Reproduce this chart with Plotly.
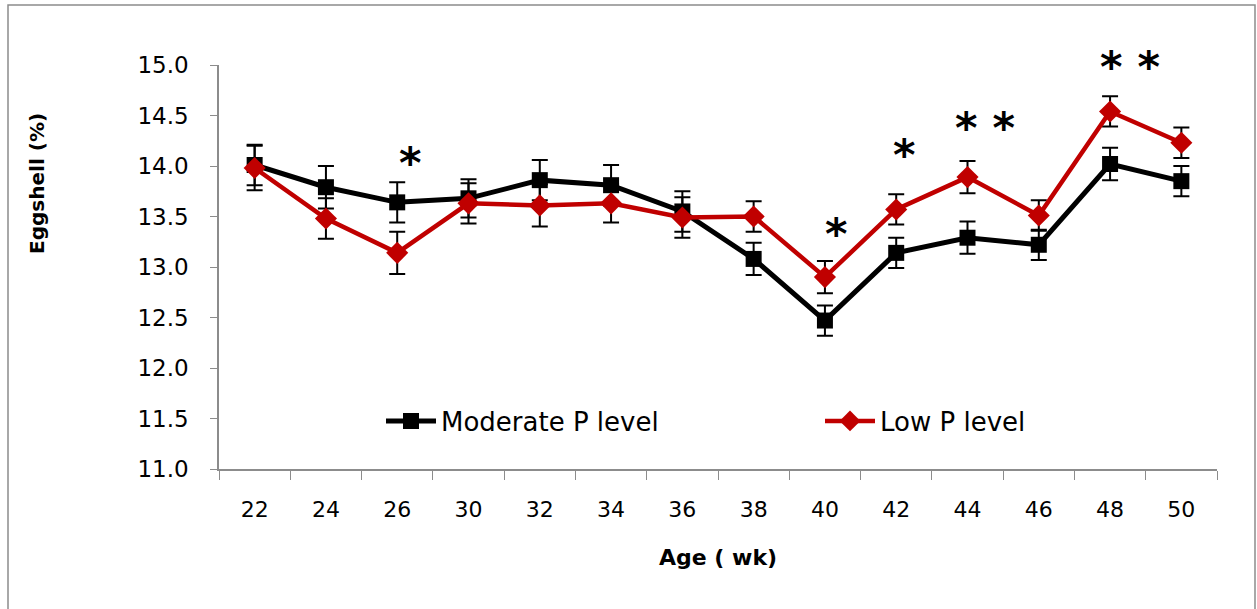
import plotly.graph_objects as go

ages = ["22", "24", "26", "30", "32", "34", "36", "38", "40", "42", "44", "46", "48", "50"]
moderate = [14.01, 13.79, 13.64, 13.68, 13.86, 13.81, 13.55, 13.08, 12.47, 13.14, 13.29, 13.22, 14.02, 13.85]
moderate_err = [0.20, 0.21, 0.20, 0.19, 0.20, 0.20, 0.20, 0.16, 0.15, 0.15, 0.16, 0.15, 0.16, 0.15]
low = [13.98, 13.48, 13.14, 13.63, 13.61, 13.63, 13.49, 13.50, 12.90, 13.57, 13.89, 13.51, 14.54, 14.23]
low_err = [0.22, 0.20, 0.21, 0.20, 0.21, 0.19, 0.20, 0.15, 0.16, 0.15, 0.16, 0.15, 0.15, 0.15]

# significance marks: (category, text, y value, pixel x shift)
sig_cats = ["26", "40", "42", "44", "48"]
sig_text = ["*", "*", "*", "* *", "* *"]
sig_y = [14.08, 13.38, 14.16, 14.43, 15.03]
sig_shift = [13, 12, 8, 17, 20]

Y_MIN, Y_MAX = 11, 15
FONT = "DejaVu Sans"

fig = go.Figure()
fig.add_trace(go.Scatter(
    x=ages, y=moderate, name="Moderate P level", mode="lines+markers",
    line=dict(color="black", width=5),
    marker=dict(symbol="square", size=16, color="black"),
    error_y=dict(type="data", array=moderate_err, color="black", thickness=2, width=8),
))
fig.add_trace(go.Scatter(
    x=ages, y=low, name="Low P level", mode="lines+markers",
    line=dict(color="#C00000", width=4.5),
    marker=dict(symbol="diamond", size=17, color="#C00000"),
    error_y=dict(type="data", array=low_err, color="black", thickness=2, width=8),
))

for c, t, yv, s in zip(sig_cats, sig_text, sig_y, sig_shift):
    fig.add_annotation(x=ages.index(c), xref="x", yref="paper",
                       y=(yv - Y_MIN) / (Y_MAX - Y_MIN), text="<b>" + t + "</b>",
                       showarrow=False, xshift=s, yshift=-5, xanchor="center", yanchor="middle",
                       font=dict(family=FONT, size=43, color="black"))

# axis titles
fig.add_annotation(text="<b>Age ( wk)</b>", xref="paper", yref="paper", x=0.5, y=-0.22,
                   showarrow=False, xanchor="center", yanchor="middle",
                   font=dict(family=FONT, size=22, color="black"))
fig.add_annotation(text="<b>Eggshell (%)</b>", xref="paper", yref="paper", x=-0.1824, y=0.708,
                   showarrow=False, xanchor="center", yanchor="middle", textangle=-90,
                   font=dict(family=FONT, size=20, color="black"))

# outer chart border
fig.add_shape(type="rect", xref="paper", yref="paper",
              x0=(8 - 219) / 998, x1=(1255 - 219) / 998,
              y0=(469 - 615) / 404, y1=(469 - 5) / 404,
              line=dict(color="#8c8c8c", width=1.5), fillcolor="rgba(0,0,0,0)", layer="below")

fig.update_layout(
    width=1257, height=609,
    margin=dict(l=219, r=40, t=65, b=140, autoexpand=False),
    plot_bgcolor="white", paper_bgcolor="white",
    font=dict(family=FONT, color="black"),
    showlegend=True,
    legend=dict(orientation="h", xref="container", x=381 / 1257, y=(609 - 421) / 609,
                yref="container", xanchor="left", yanchor="middle",
                font=dict(family=FONT, size=26, color="black"),
                entrywidth=374, itemwidth=50, bgcolor="rgba(0,0,0,0)"),
    xaxis=dict(
        type="category", categoryorder="array", categoryarray=ages,
        range=[-0.5, len(ages) - 0.5], tickangle=0,
        tickson="boundaries", ticks="outside", ticklen=9,
        tickcolor="#8c8c8c", showline=True, linecolor="#8c8c8c", linewidth=1.5,
        showgrid=False, tickfont=dict(family=FONT, size=22), ticklabelstandoff=20,
    ),
    yaxis=dict(
        range=[Y_MIN, Y_MAX], tickvals=[11, 11.5, 12, 12.5, 13, 13.5, 14, 14.5, 15],
        ticktext=["11.0", "11.5", "12.0", "12.5", "13.0", "13.5", "14.0", "14.5", "15.0"],
        ticks="outside", ticklen=7, tickcolor="#8c8c8c", showline=True,
        linecolor="#8c8c8c", linewidth=1.5, showgrid=False, zeroline=False,
        tickfont=dict(family=FONT, size=23), ticklabelstandoff=17,
    ),
)

fig.write_html("out.html")
